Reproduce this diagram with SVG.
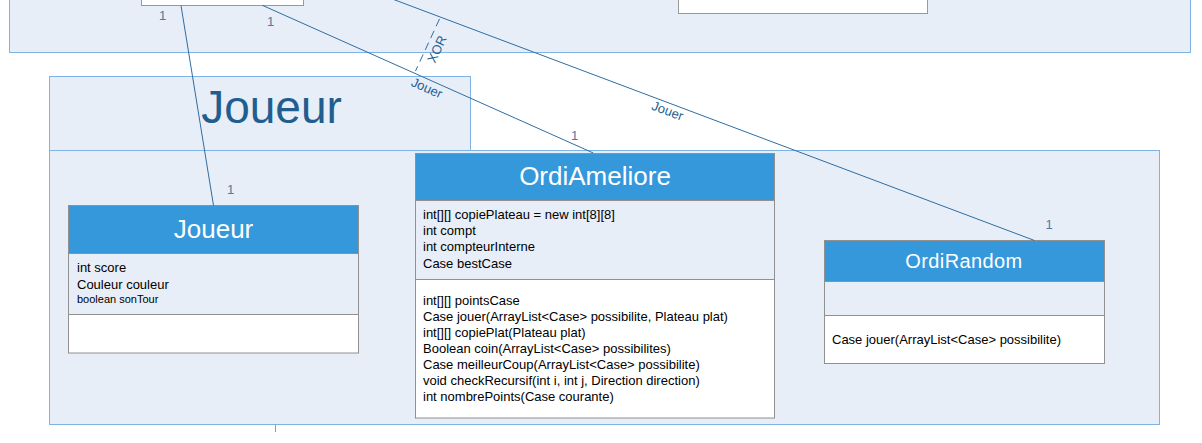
<svg xmlns="http://www.w3.org/2000/svg" width="1202" height="443" viewBox="0 0 1202 443">
<style>
.pkg{fill:#e7eef8;stroke:#7fb3e4;stroke-width:1}
.box{fill:#ffffff;stroke:#999999;stroke-width:1}
.hdr{fill:#3598db;stroke:#909090;stroke-width:1}
.att{fill:#e7eef8;stroke:#909090;stroke-width:1}
.ops{fill:#ffffff;stroke:#909090;stroke-width:1}
.title{font-family:"Liberation Sans",Arial,sans-serif;fill:#ffffff;text-anchor:middle}
.mem{font-family:"Liberation Sans",Arial,sans-serif;font-size:13px;fill:#000000}
.con{fill:none;stroke:#2f6da3;stroke-width:1}
.mult{font-family:"Liberation Sans",Arial,sans-serif;font-size:13px;fill:#4d7aa6}
.lbl{font-family:"Liberation Sans",Arial,sans-serif;font-size:13px;fill:#255f92}
</style>
<g id="top-package">
<rect class="pkg" x="9.5" y="-10" width="1181" height="62.5"/>
<rect class="box" x="141.5" y="-10" width="162" height="15.5"/>
<rect class="box" x="678.5" y="-10" width="249" height="23.5"/>
</g>
<g id="joueur-package">
<rect class="pkg" x="49.5" y="76.5" width="421" height="74"/>
<rect class="pkg" x="49.5" y="150.5" width="1110" height="274"/>
<text x="271.5" y="122.5" font-family="'Liberation Sans',Arial,sans-serif" font-size="46" fill="#215e8f" text-anchor="middle">Joueur</text>
<line x1="275.5" y1="424.5" x2="275.5" y2="432" stroke="#999999" stroke-width="1"/>
</g>
<g id="class-joueur">
<rect class="hdr" x="68.5" y="205.5" width="290" height="48"/>
<rect class="att" x="68.5" y="253.5" width="290" height="61"/>
<rect class="ops" x="68.5" y="314.5" width="290" height="38.5"/>
<text class="title" x="213.5" y="237.5" font-size="26">Joueur</text>
<text class="mem" x="77" y="271.5">int score</text>
<text class="mem" x="77" y="289">Couleur couleur</text>
<text class="mem" x="77" y="302.5" style="font-size:11px">boolean sonTour</text>
</g>
<g id="class-ordiameliore">
<rect class="hdr" x="415.5" y="153.5" width="359" height="47"/>
<rect class="att" x="415.5" y="200.5" width="359" height="79"/>
<rect class="ops" x="415.5" y="279.5" width="359" height="138.5"/>
<text class="title" x="595" y="184.5" font-size="26">OrdiAmeliore</text>
<text class="mem" x="423" y="219">int[][] copiePlateau = new int[8][8]</text>
<text class="mem" x="423" y="235">int compt</text>
<text class="mem" x="423" y="251">int compteurInterne</text>
<text class="mem" x="423" y="267.5">Case bestCase</text>
<text class="mem" x="423" y="304.5">int[][] pointsCase</text>
<text class="mem" x="423" y="320.5">Case jouer(ArrayList&lt;Case&gt; possibilite, Plateau plat)</text>
<text class="mem" x="423" y="336.5">int[][] copiePlat(Plateau plat)</text>
<text class="mem" x="423" y="352.5">Boolean coin(ArrayList&lt;Case&gt; possibilites)</text>
<text class="mem" x="423" y="368.5">Case meilleurCoup(ArrayList&lt;Case&gt; possibilite)</text>
<text class="mem" x="423" y="384.5">void checkRecursif(int i, int j, Direction direction)</text>
<text class="mem" x="423" y="400.5">int nombrePoints(Case courante)</text>
</g>
<g id="class-ordirandom">
<rect class="hdr" x="824.5" y="240.5" width="280" height="41"/>
<rect class="att" x="824.5" y="281.5" width="280" height="34"/>
<rect class="ops" x="824.5" y="315.5" width="280" height="48"/>
<text class="title" x="964" y="267.5" font-size="20" letter-spacing="0.4">OrdiRandom</text>
<text class="mem" x="832" y="344">Case jouer(ArrayList&lt;Case&gt; possibilite)</text>
</g>
<g id="connectors">
<line class="con" x1="181" y1="5.5" x2="213.5" y2="205.5"/>
<line class="con" x1="262.3" y1="5.3" x2="593.3" y2="153"/>
<line class="con" x1="368.4" y1="-10" x2="1034.5" y2="240.5"/>
<line class="con" x1="439.5" y1="19" x2="415.5" y2="71" stroke-dasharray="8,5"/>
<text class="mult" x="159" y="20">1</text>
<text class="mult" x="267" y="25.5">1</text>
<text class="mult" x="227" y="193.5">1</text>
<text class="mult" x="571" y="140">1</text>
<text class="mult" x="1045.5" y="229">1</text>
<text class="lbl" transform="translate(425,92) rotate(24)" text-anchor="middle">Jouer</text>
<text class="lbl" transform="translate(666,115) rotate(20.6)" text-anchor="middle">Jouer</text>
<text class="lbl" transform="translate(441,51) rotate(-65)" text-anchor="middle">XOR</text>
</g>
</svg>
